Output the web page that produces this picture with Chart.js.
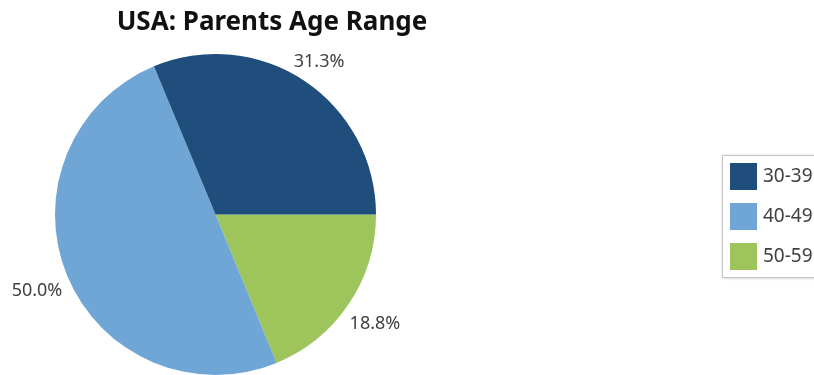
<!DOCTYPE html>
<html>
<head>
<meta charset="utf-8">
<script src="https://cdn.jsdelivr.net/npm/chart.js@4/dist/chart.umd.min.js"></script>
<style>
  html, body { margin: 0; padding: 0; background: #fff; overflow: hidden; }
  #box { width: 814px; height: 375px; }
</style>
</head>
<body>
<div id="box"><canvas id="pie" width="814" height="375"></canvas></div>
<script>
  /// data ///
  const chartTitle = 'USA: Parents Age Range'
  const ageRanges = ['30-39', '40-49', '50-59']
  const sharePct = [31.3, 50.0, 18.8]
  const sliceColors = ['#1f4e7c', '#6fa6d6', '#9dc55b']

  // pie runs the other way round in the reference, so feed it reversed
  const order = [2, 1, 0]

  //// percent labels outside the slices ///
  const outsideLabels = {
    id: 'outsideLabels',
    afterDatasetsDraw(chart) {
      const ctx = chart.ctx
      const meta = chart.getDatasetMeta(0)
      const vals = chart.data.datasets[0].data
      ctx.save()
      ctx.font = '18px "Noto Sans", sans-serif'
      ctx.fillStyle = '#404040'
      ctx.textAlign = 'center'
      ctx.textBaseline = 'middle'
      meta.data.forEach(function (arc, i) {
        const p = arc.getProps(['x', 'y', 'startAngle', 'endAngle', 'outerRadius'], true)
        const mid = (p.startAngle + p.endAngle) / 2
        const txt = vals[i].toFixed(1) + '%'
        const hw = ctx.measureText(txt).width / 2
        const hh = 6
        const c = Math.cos(mid), s = Math.sin(mid)
        const d = p.outerRadius + 7 + hw * Math.abs(c) + hh * Math.abs(s)
        ctx.fillText(txt, p.x + c * d, p.y + s * d + 3)
      })
      ctx.restore()
    }
  }

  //// title + boxed legend ///
  const titleAndLegend = {
    id: 'titleAndLegend',
    afterDraw(chart) {
      const ctx = chart.ctx
      ctx.save()
      ctx.font = 'bold 26px "Noto Sans", sans-serif'
      ctx.fillStyle = '#111'
      ctx.textAlign = 'center'
      ctx.textBaseline = 'alphabetic'
      ctx.fillText(chartTitle, 272, 30)

      // legend frame
      ctx.shadowColor = 'rgba(0,0,0,0.25)'
      ctx.shadowBlur = 3
      ctx.shadowOffsetX = 1
      ctx.shadowOffsetY = 1
      ctx.fillStyle = '#fff'
      ctx.fillRect(722, 155, 120, 122)
      ctx.shadowColor = 'transparent'
      ctx.strokeStyle = '#c4c4c4'
      ctx.lineWidth = 1
      ctx.strokeRect(722.5, 155.5, 120, 122)

      ctx.font = '19px "Noto Sans", sans-serif'
      ctx.textAlign = 'left'
      ctx.textBaseline = 'middle'
      ageRanges.forEach(function (lab, i) {
        const y = 163 + i * 40
        ctx.fillStyle = sliceColors[i]
        ctx.fillRect(730, y, 27, 27)
        ctx.fillStyle = '#404040'
        ctx.fillText(lab, 763, y + 14)
      })
      ctx.restore()
    }
  }

  const ctx = document.getElementById('pie').getContext('2d')
  const myChart = new Chart(ctx, {
    type: 'pie',
    data: {
      labels: order.map(i => ageRanges[i]),
      datasets: [{
        data: order.map(i => sharePct[i]),
        backgroundColor: order.map(i => sliceColors[i]),
        borderWidth: 0
      }]
    },
    options: {
      responsive: false,
      animation: false,
      rotation: 90,
      layout: { padding: { top: 54, left: 55, right: 438, bottom: 0 } },
      plugins: {
        legend: { display: false },
        title: { display: false },
        tooltip: { enabled: false }
      }
    },
    plugins: [outsideLabels, titleAndLegend]
  })
</script>
</body>
</html>
